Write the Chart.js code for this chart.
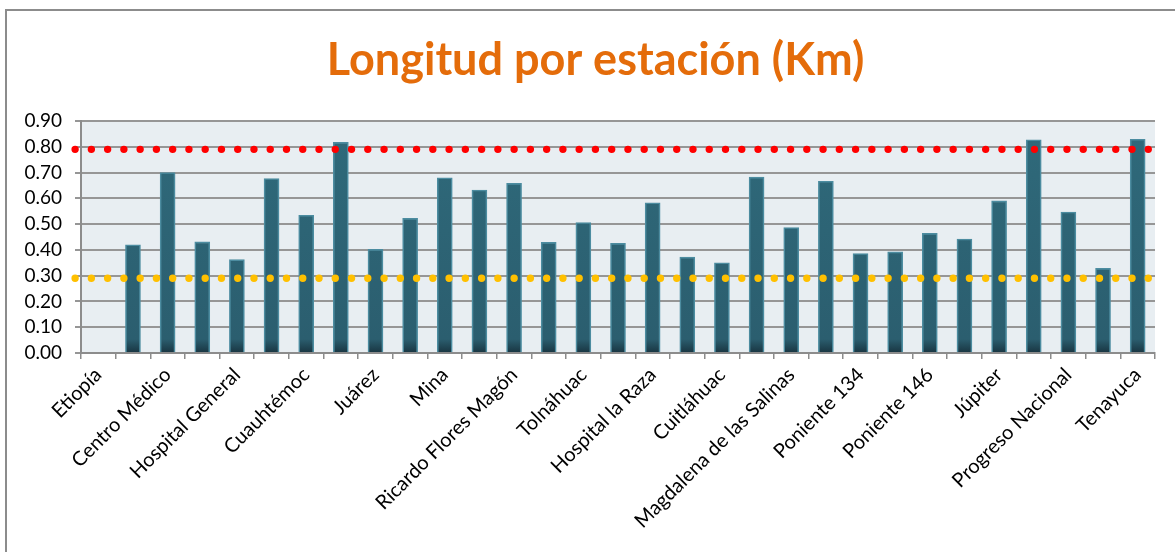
<!DOCTYPE html>
<html lang="es">
<head>
<meta charset="utf-8">
<title>Longitud por estación (Km)</title>
<script src="https://cdn.jsdelivr.net/npm/chart.js@4.4.1/dist/chart.umd.min.js"></script>
<style>
  html, body { margin: 0; padding: 0; background: #ffffff; }
  #wrap { width: 1175px; height: 552px; position: relative; }
</style>
</head>
<body>
<div id="wrap"><canvas id="chart" width="1175" height="552"></canvas></div>
<script>
// Estaciones de la línea, de Etiopía a Tenayuca
const stations = [
  'Etiopía', 'Obrero Mundial', 'Centro Médico', 'Dr. Márquez', 'Hospital General',
  'Jardín Pushkin', 'Cuauhtémoc', 'Balderas', 'Juárez', 'Hidalgo', 'Mina', 'Guerrero',
  'Ricardo Flores Magón', 'Tlatelolco', 'Tolnáhuac', 'Circuito', 'Hospital la Raza',
  'Héroe de Nacozari', 'Cuitláhuac', 'Coltongo', 'Magdalena de las Salinas',
  'Poniente 128', 'Poniente 134', 'Montevideo', 'Poniente 146', 'La Patera', 'Júpiter',
  'Tres Anegas', 'Progreso Nacional', 'San José de la Escalera', 'Tenayuca'
];

// Longitud del tramo que llega a cada estación (km)
const lengthKm = [
  0.000, 0.420, 0.700, 0.431, 0.362, 0.677, 0.534, 0.817, 0.402, 0.522, 0.680,
  0.632, 0.658, 0.429, 0.506, 0.425, 0.583, 0.372, 0.350, 0.682, 0.487, 0.666,
  0.386, 0.392, 0.464, 0.442, 0.590, 0.827, 0.547, 0.328, 0.829
];

// Límites de referencia (km)
const upperLimit = 0.79;
const lowerLimit = 0.29;

// Marcas del eje vertical
const yTicks = [0.0, 0.1, 0.2, 0.3, 0.4, 0.5, 0.6, 0.7, 0.8, 0.9];

// Extremos de las líneas punteadas sobre el eje auxiliar (índice de estación)
const refStart = -0.67;
const refEnd = 30.36;

const refLine = (value) => [{ x: refStart, y: value }, { x: refEnd, y: value }];

// Fondo del área de trazado, marco del gráfico y posición del título
const frameAndBackground = {
  id: 'frameAndBackground',
  afterLayout(chart) {
    if (chart.titleBlock) chart.titleBlock.left = 36;
  },
  beforeDraw(chart) {
    const { ctx, chartArea: a } = chart;
    ctx.save();
    ctx.fillStyle = '#ffffff';
    ctx.fillRect(0, 0, chart.width, chart.height);
    ctx.fillStyle = '#e8eef2';
    ctx.fillRect(a.left, a.top, a.right - a.left, a.bottom - a.top);
    ctx.strokeStyle = '#8c8c8c';
    ctx.lineWidth = 2;
    ctx.beginPath();
    ctx.moveTo(6, chart.height);
    ctx.lineTo(6, 10);
    ctx.lineTo(chart.width, 10);
    ctx.stroke();
    ctx.restore();
  }
};

function barFill(context) {
  const { ctx, chartArea } = context.chart;
  if (!chartArea) return '#2c6072';
  const g = ctx.createLinearGradient(0, chartArea.top, 0, chartArea.bottom);
  g.addColorStop(0, '#2f6a7b');
  g.addColorStop(0.94, '#2b5e6f');
  g.addColorStop(1, '#183440');
  return g;
}

const labelFont = "Lato, 'Noto Sans', sans-serif";

new Chart(document.getElementById('chart'), {
  data: {
    labels: stations,
    datasets: [
      {
        type: 'line',
        data: refLine(upperLimit),
        xAxisID: 'xRef',
        borderColor: '#ff0000',
        borderWidth: 7.4,
        borderDash: [0, 16.26],
        borderCapStyle: 'round',
        pointRadius: 0,
        fill: false,
        clip: false,
        order: 0
      },
      {
        type: 'line',
        data: refLine(lowerLimit),
        xAxisID: 'xRef',
        borderColor: '#ffc000',
        borderWidth: 7.4,
        borderDash: [0, 16.26],
        borderCapStyle: 'round',
        pointRadius: 0,
        fill: false,
        clip: false,
        order: 0
      },
      {
        type: 'bar',
        data: lengthKm,
        xAxisID: 'x',
        backgroundColor: barFill,
        borderColor: '#4c8ca0',
        borderWidth: 1.6,
        barThickness: 15,
        grouped: false,
        order: 1
      }
    ]
  },
  options: {
    responsive: false,
    animation: false,
    events: [],
    layout: { padding: { left: 0, right: 20, top: 0, bottom: 0 } },
    plugins: {
      legend: { display: false },
      tooltip: { enabled: false },
      title: {
        display: true,
        text: 'Longitud por estación (Km)',
        color: '#e46c0a',
        font: { family: labelFont, size: 45, weight: 'bold', lineHeight: 1.2 },
        padding: { top: 33, bottom: 34 }
      }
    },
    scales: {
      x: {
        type: 'category',
        offset: true,
        grid: {
          display: true,
          offset: true,
          drawOnChartArea: false,
          drawTicks: true,
          tickLength: 6,
          color: '#8c8c8c',
          lineWidth: 1.5
        },
        border: { display: true, color: '#8c8c8c', width: 2 },
        ticks: {
          autoSkip: false,
          maxRotation: 45,
          minRotation: 45,
          padding: 4,
          color: '#000000',
          font: { family: labelFont, size: 20 },
          callback: (value, index) => (index % 2 === 0 ? stations[index] : '')
        },
        afterFit: (scale) => {
          scale.height = 199;
          scale.paddingLeft = 0;
          scale.paddingRight = 0;
        }
      },
      xRef: {
        type: 'linear',
        display: false,
        min: -0.5,
        max: stations.length - 0.5
      },
      y: {
        min: 0,
        max: 0.9,
        afterBuildTicks: (scale) => { scale.ticks = yTicks.map((v) => ({ value: v })); },
        grid: {
          color: '#969696',
          lineWidth: 2,
          drawTicks: true,
          tickLength: 6
        },
        border: { display: true, color: '#8c8c8c', width: 2 },
        ticks: {
          autoSkip: false,
          padding: 13,
          color: '#000000',
          font: { family: labelFont, size: 19 },
          callback: (v) => Number(v).toFixed(2)
        },
        afterFit: (scale) => { scale.width = 81; }
      }
    }
  },
  plugins: [frameAndBackground]
});
</script>
</body>
</html>
